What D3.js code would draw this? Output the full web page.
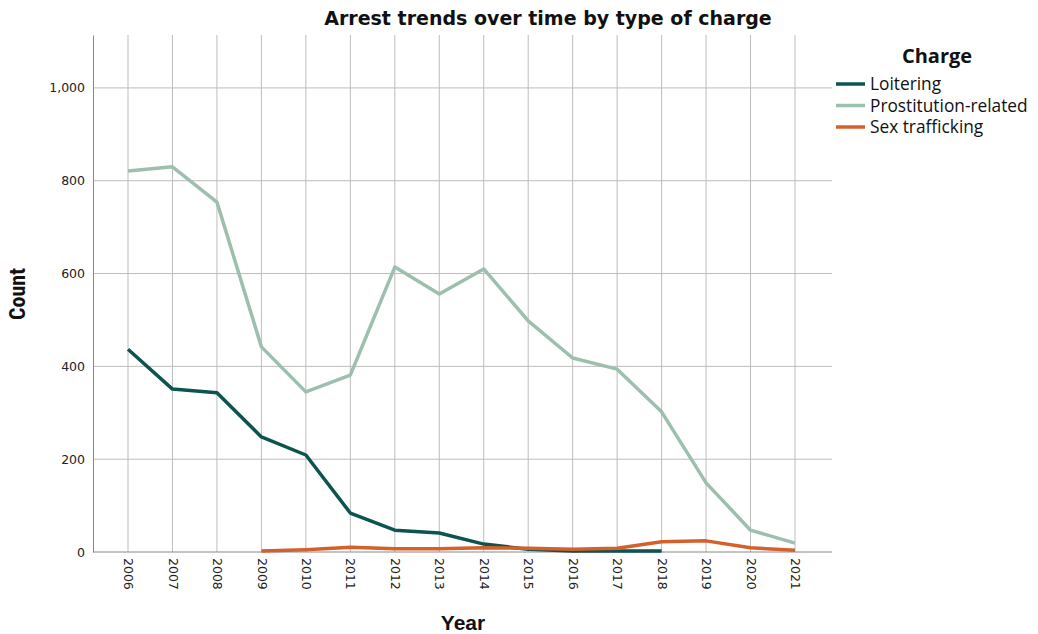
<!DOCTYPE html>
<html><head><meta charset="utf-8">
<script src="https://cdn.jsdelivr.net/npm/d3@7"></script>
<style>body{margin:0;background:#fff}svg{display:block}</style>
</head><body><svg id="c" width="1038" height="634"></svg>
<script>
const years = [2006,2007,2008,2009,2010,2011,2012,2013,2014,2015,2016,2017,2018,2019,2020,2021];
const loitering = [437,351,343,248,209,84,47,41,17,6,2,2,2,null,null,null];
const prostitution = [821,830,754,442,345,381,614,556,610,498,418,394,302,149,47,19];
const sexTrafficking = [null,null,null,2,5,10,7,7,9,8,6,8,22,24,9,4];
const yTicks = [0,200,400,600,800,1000];
const seriesNames = ["Loitering","Prostitution-related","Sex trafficking"];
const colors = ["#0d5350","#9dbfae","#d4602b"];

const svg = d3.select("#c");
const L=93, R=832, T=35, B=552;
const x = d3.scalePoint().domain(years).range([128,795]);
const y = d3.scaleLinear().domain([0,1114]).range([B,T]);

// grid
svg.append("g").selectAll("line").data(years).join("line")
  .attr("x1",d=>x(d)).attr("x2",d=>x(d)).attr("y1",T).attr("y2",B)
  .attr("stroke","#bdbdbd").attr("stroke-width",1);
svg.append("g").selectAll("line").data(yTicks.slice(1)).join("line")
  .attr("x1",L).attr("x2",R).attr("y1",d=>y(d)).attr("y2",d=>y(d))
  .attr("stroke","#bdbdbd").attr("stroke-width",1);

// axes
const ya = svg.append("g").attr("transform",`translate(${L},0)`)
  .call(d3.axisLeft(y).tickValues(yTicks).tickFormat(d3.format(",")).tickSize(0).tickPadding(8));
ya.select(".domain").attr("stroke","#888");
ya.selectAll("text").attr("font-family","DejaVu Sans").attr("font-size",12.5).attr("fill","#222");

const xa = svg.append("g").attr("transform",`translate(0,${B})`)
  .call(d3.axisBottom(x).tickSize(0).tickFormat(d3.format("d")));
xa.select(".domain").attr("stroke","#888").attr("d",`M${L},0H${R}`);
xa.selectAll("text").attr("font-family","DejaVu Sans").attr("font-size",12.5).attr("fill","#222")
  .attr("transform","rotate(90)").attr("text-anchor","start").attr("x",6).attr("y",0).attr("dy","0.35em");

// lines
const allSeries=[loitering,prostitution,sexTrafficking];
const line = d3.line().defined(d=>d[1]!=null).x(d=>x(d[0])).y(d=>y(d[1]));
[1,0,2].forEach(i=>{
  svg.append("path").datum(years.map((yr,j)=>[yr,allSeries[i][j]]))
    .attr("d",line).attr("fill","none").attr("stroke",colors[i]).attr("stroke-width",3.5)
    .attr("stroke-linejoin","round");
});

// title & labels
svg.append("text").attr("x",548).attr("y",25).attr("text-anchor","middle")
  .attr("font-family","DejaVu Sans").attr("font-weight","bold").attr("font-size",19).attr("fill","#111")
  .text("Arrest trends over time by type of charge");
svg.append("text").attr("transform","translate(25,294) rotate(-90)").attr("text-anchor","middle")
  .attr("font-family","Liberation Sans Narrow, Roboto Condensed, sans-serif").attr("font-weight","bold").attr("font-size",22).attr("fill","#111")
  .text("Count");
svg.append("text").attr("x",463).attr("y",630).attr("text-anchor","middle")
  .attr("font-family","Liberation Sans Narrow, sans-serif").attr("font-weight","bold").attr("font-size",21).attr("fill","#111")
  .text("Year");

// legend
svg.append("text").attr("x",937).attr("y",63).attr("text-anchor","middle")
  .attr("font-family","Open Sans").attr("font-weight","bold").attr("font-size",20).attr("fill","#111").text("Charge");
const lg = svg.append("g").selectAll("g").data(seriesNames).join("g")
  .attr("transform",(d,i)=>`translate(836,${84+i*21.5})`);
lg.append("line").attr("x1",0).attr("x2",29).attr("y1",0).attr("y2",0)
  .attr("stroke",(d,i)=>colors[i]).attr("stroke-width",3.5);
lg.append("text").attr("x",34).attr("y",0).attr("dy","0.35em")
  .attr("font-family","Open Sans").attr("font-size",17.3).attr("fill","#111").text(d=>d);
</script></body></html>
